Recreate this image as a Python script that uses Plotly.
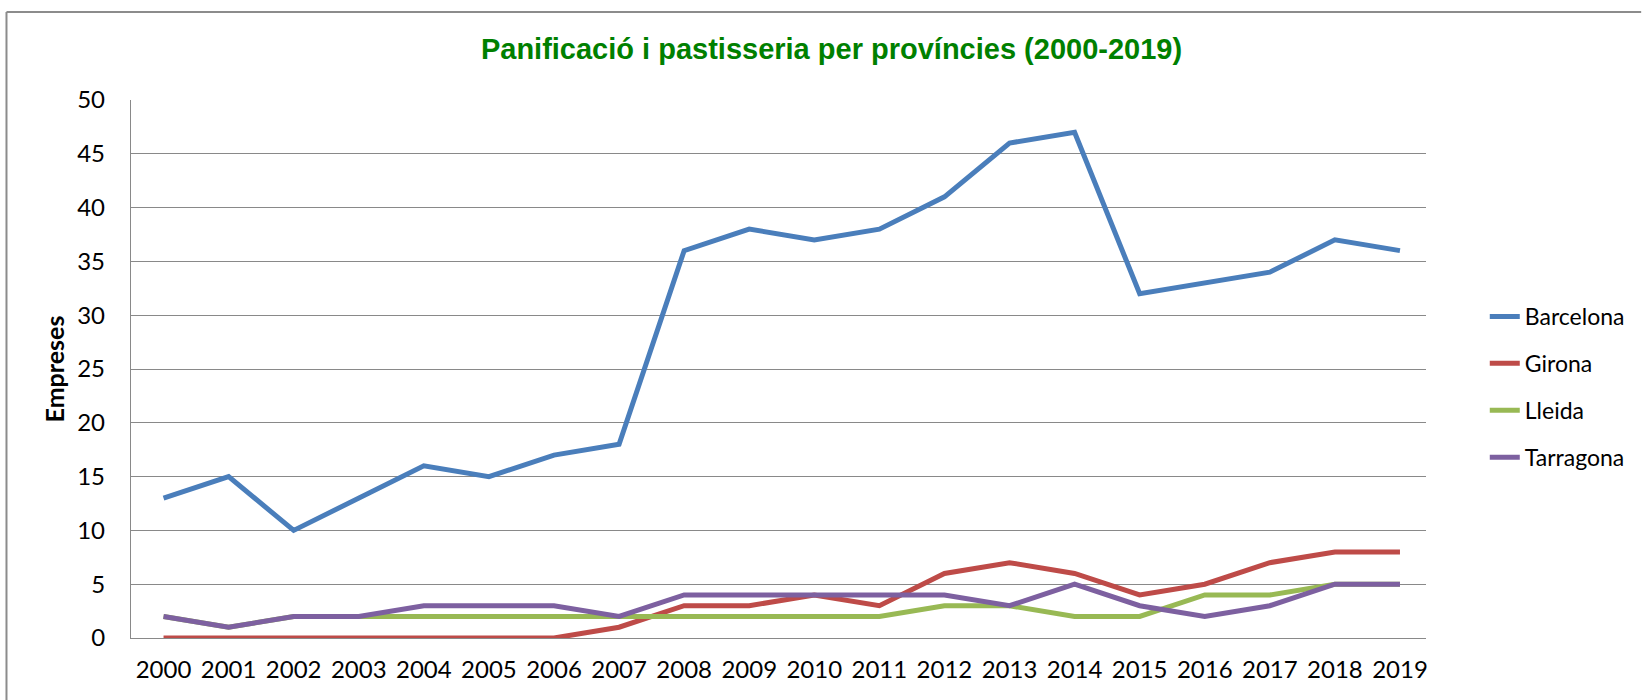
import plotly.graph_objects as go

years = [str(y) for y in range(2000, 2020)]
barcelona = [13, 15, 10, 13, 16, 15, 17, 18, 36, 38, 37, 38, 41, 46, 47, 32, 33, 34, 37, 36]
girona = [0, 0, 0, 0, 0, 0, 0, 1, 3, 3, 4, 3, 6, 7, 6, 4, 5, 7, 8, 8]
lleida = [2, 1, 2, 2, 2, 2, 2, 2, 2, 2, 2, 2, 3, 3, 2, 2, 4, 4, 5, 5]
tarragona = [2, 1, 2, 2, 3, 3, 3, 2, 4, 4, 4, 4, 4, 3, 5, 3, 2, 3, 5, 5]

series = [
    ("Barcelona", barcelona, "#4A7EBB"),
    ("Girona", girona, "#BE4B48"),
    ("Lleida", lleida, "#98B954"),
    ("Tarragona", tarragona, "#7D60A0"),
]

W, H = 1642, 700
L, R, T, B = 131, 211, 100, 62
pw = W - L - R
ph = H - T - B

fig = go.Figure()
for name, vals, col in series:
    fig.add_trace(go.Scatter(
        x=years, y=vals, name=name, mode="lines",
        line=dict(color=col, width=5),
        legendgroup=name,
    ))

grid = "#898989"
tickfont = dict(family="Lato", size=24, color="#000000")

fig.update_layout(
    width=W, height=H,
    margin=dict(l=L, r=R, t=T, b=B),
    paper_bgcolor="white", plot_bgcolor="white",
    title=dict(
        text="Panificació i pastisseria per províncies (2000-2019)",
        font=dict(family="Liberation Sans, Arial", size=29, color="#008000", weight="bold"),
        x=831.5 / W, xanchor="center",
        y=1 - 49 / H, yanchor="middle",
    ),
    showlegend=True,
    legend=dict(
        x=(1490 - L) / pw, xanchor="left",
        y=1 - (295 - T) / ph, yanchor="top",
        font=dict(family="Lato", size=23, color="#000000"),
        tracegroupgap=14,
        bgcolor="rgba(0,0,0,0)",
    ),
    xaxis=dict(
        type="category", range=[-0.5, 19.4],
        showgrid=False, zeroline=False,
        showline=True, linecolor=grid, linewidth=1.3,
        ticks="", tickfont=tickfont, ticklabelstandoff=10,
    ),
    yaxis=dict(
        range=[0, 50], dtick=5, tick0=0,
        showgrid=True, gridcolor=grid, gridwidth=1.3,
        zeroline=False,
        showline=True, linecolor=grid, linewidth=1.3,
        ticks="", tickfont=tickfont, ticklabelstandoff=20,
        title=dict(text="Empreses", font=dict(family="Lato", size=25, color="#000000", weight="bold"), standoff=5),
    ),
    shapes=[
        dict(type="line", xref="paper", yref="paper",
             x0=(6 - L) / pw, x1=(W + 5 - L) / pw,
             y0=1 + (T - 12) / ph, y1=1 + (T - 12) / ph,
             line=dict(color="#8c8c8c", width=2)),
        dict(type="line", xref="paper", yref="paper",
             x0=(6 - L) / pw, x1=(6 - L) / pw,
             y0=1 + (T - 12) / ph, y1=-(B + 5) / ph,
             line=dict(color="#8c8c8c", width=2)),
    ],
)

fig.write_html(
    "out.html",
    config={"displayModeBar": False},
    post_script="document.body.style.margin='0';document.body.style.overflow='hidden';",
)
